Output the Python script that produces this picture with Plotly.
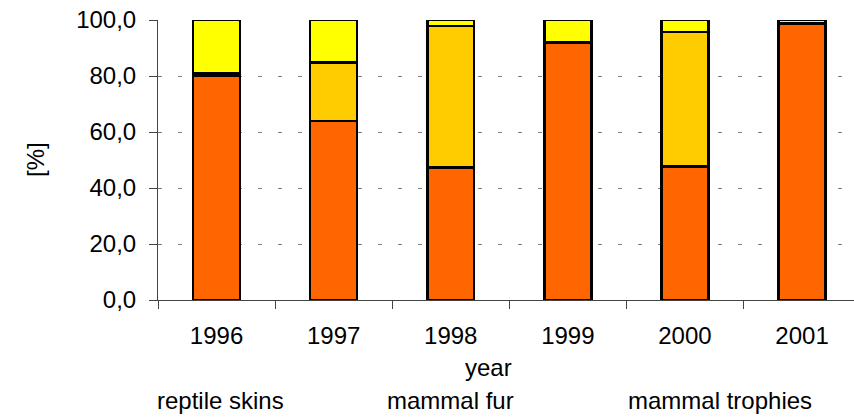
import plotly.graph_objects as go

years = ["1996", "1997", "1998", "1999", "2000", "2001"]
reptile_skins = [80.0, 64.0, 47.4, 92.0, 47.6, 98.8]
mammal_fur = [0.9, 20.8, 50.5, 0.0, 48.2, 0.0]
mammal_trophies = [19.1, 15.2, 2.1, 8.0, 4.2, 1.2]
series_names = ["reptile skins", "mammal fur", "mammal trophies"]
colors = ["#FF6600", "#FFCC00", "#FFFF00"]
y_ticks = [0, 20, 40, 60, 80, 100]

W, H = 854, 418
PL, PT, PB = 158, 20, 300          # plot area in window pixels
L, T = PL, PT
ph = PB - PT
B = H - T - ph
R = 0
pw = W - L - R

def px_x(px):
    return (px - PL) / pw

def px_y(py):
    return (PB - py) / ph

fig = go.Figure()
for name, vals, col in zip(series_names, [reptile_skins, mammal_fur, mammal_trophies], colors):
    fig.add_trace(go.Bar(
        x=years, y=vals, name=name,
        marker=dict(color=col, line=dict(color="black", width=2.5)),
        showlegend=False,
    ))

font_family = "Liberation Sans, Arial, sans-serif"
fig.update_layout(
    width=W, height=H,
    margin=dict(l=L, r=R, t=T, b=B, autoexpand=False),
    barmode="stack",
    bargap=0.6,
    plot_bgcolor="white",
    paper_bgcolor="white",
    separators=",.",
    font=dict(family=font_family, size=24, color="black"),
)
cat_w = 117.1
fig.update_xaxes(
    type="category",
    range=[-0.5, -0.5 + pw / cat_w],
    tickson="boundaries",
    ticks="outside", ticklen=8, tickcolor="#444444", tickwidth=1,
    showline=True, linecolor="#444444", linewidth=1,
    showgrid=False,
    tickfont=dict(size=24),
    ticklabelstandoff=14,
    ticklabeloverflow="allow",
)
fig.update_yaxes(
    range=[0, 100],
    tickvals=y_ticks,
    tickformat=".1f",
    ticks="outside", ticklen=8, tickcolor="#444444", tickwidth=1,
    showline=True, linecolor="#444444", linewidth=1,
    showgrid=True, gridcolor="#808080", gridwidth=1, griddash="4px,16px",
    zeroline=False,
    tickfont=dict(size=24),
    ticklabelstandoff=8,
    ticklabeloverflow="allow",
)

annos = [
    dict(text="year", x=px_x(488), y=px_y(367)),
    dict(text="[%]", x=px_x(35), y=px_y(160), textangle=-90),
    dict(text=series_names[0], x=px_x(220), y=px_y(400)),
    dict(text=series_names[1], x=px_x(450), y=px_y(400)),
    dict(text=series_names[2], x=px_x(720), y=px_y(400)),
]
for a in annos:
    fig.add_annotation(xref="paper", yref="paper", showarrow=False,
                       xanchor="center", yanchor="middle",
                       font=dict(size=24, color="black"), **a)

fig.write_html(
    "out.html",
    config={"displayModeBar": False},
    post_script="document.body.style.margin='0';document.body.style.overflow='hidden';",
)
